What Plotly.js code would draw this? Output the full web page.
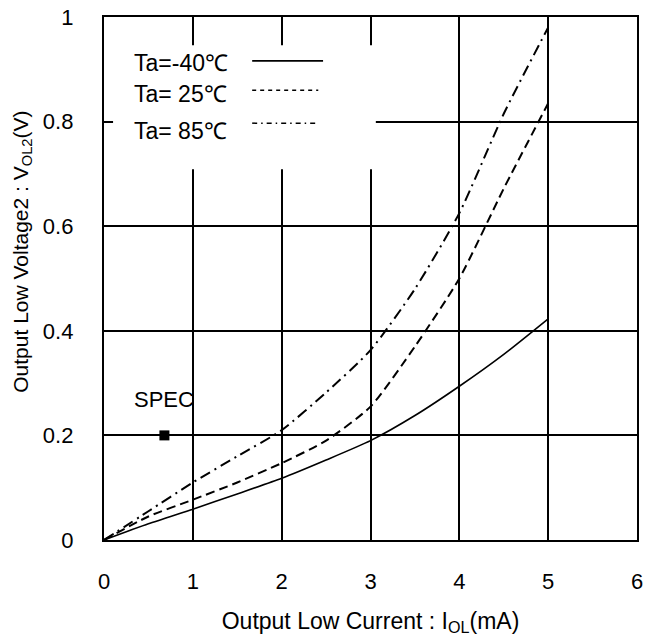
<!DOCTYPE html>
<html>
<head>
<meta charset="utf-8">
<script src="https://cdn.plot.ly/plotly-3.0.1.min.js"></script>
<style>body{margin:0;background:#fff}#chart{width:656px;height:639px}</style>
</head>
<body>
<div id="chart"></div>
<script>
// Output low current (mA)
var currentMA = [0, 0.5, 1, 1.5, 2, 2.5, 3, 3.5, 4, 4.5, 5];
// Output low voltage (V) per ambient temperature
var vol_m40 = [0, 0.031, 0.059, 0.088, 0.118, 0.153, 0.19, 0.238, 0.294, 0.355, 0.423];
var vol_25  = [0, 0.045, 0.077, 0.11, 0.147, 0.19, 0.255, 0.37, 0.5, 0.672, 0.835];
var vol_85  = [0, 0.055, 0.11, 0.16, 0.21, 0.282, 0.363, 0.48, 0.625, 0.815, 0.98];
var seriesNames = ["Ta=-40℃", "Ta= 25℃", "Ta= 85℃"];
var specX = [0.68];
var specY = [0.2];
var xTicks = [0, 1, 2, 3, 4, 5, 6];
var yTicks = [0, 0.2, 0.4, 0.6, 0.8, 1];
var yTickText = ["0", "0.2", "0.4", "0.6", "0.8", "1"];
var xTitle = "Output Low Current : I<sub>OL</sub>(mA)";
var yTitle = "Output Low Voltage2 : V<sub>OL2</sub>(V)";

var FONT = "Liberation Sans, Arial, sans-serif";
var dashes = ["solid", "9px,5px", "11px,5px,2px,5px"];
var widths = [1.6, 2, 2];
var series = [vol_m40, vol_25, vol_85];

var traces = series.map(function (ys, i) {
  return {
    x: currentMA, y: ys, name: seriesNames[i], type: "scatter", mode: "lines",
    line: {color: "#000", width: widths[i], dash: dashes[i], shape: "spline", smoothing: 0.6},
    hoverinfo: "skip"
  };
});
traces.push({
  x: specX, y: specY, type: "scatter", mode: "markers", name: "SPEC",
  marker: {symbol: "square", size: 10, color: "#000"}
});

var legendY = [0.916, 0.860, 0.797];
var legendTextY = [0.912, 0.852, 0.782];
var legendDash = ["solid", "4px,4px", "5px,4px,1.5px,4px"];
var shapes = [{
  type: "rect", xref: "paper", yref: "paper", x0: 0.017, x1: 0.51, y0: 0.709, y1: 0.946,
  fillcolor: "#fff", line: {width: 0}, layer: "above"
}];
var annotations = [];
for (var i = 0; i < 3; i++) {
  shapes.push({
    type: "line", xref: "paper", yref: "paper", x0: 0.278, x1: i === 0 ? 0.411 : 0.402,
    y0: legendY[i], y1: legendY[i], line: {color: "#000", width: i === 0 ? 1.8 : 1.5, dash: legendDash[i]},
    layer: "above"
  });
  annotations.push({
    xref: "paper", yref: "paper", x: 0.0525, y: legendTextY[i], xanchor: "left", yanchor: "middle",
    text: seriesNames[i], showarrow: false, font: {family: FONT, size: 23, color: "#000"}
  });
}
annotations.push({
  xref: "x", yref: "y", x: specX[0], y: specY[0], xanchor: "center", yanchor: "bottom", yshift: 21,
  text: "SPEC", showarrow: false, font: {family: FONT, size: 22, color: "#000"}
});
annotations.push({
  xref: "paper", yref: "paper", x: -0.154, y: 0.551, xanchor: "center", yanchor: "middle",
  textangle: -90, text: yTitle, showarrow: false, font: {family: FONT, size: 21, color: "#000"}
});

var layout = {
  width: 656, height: 639,
  margin: {l: 104, r: 19, t: 17, b: 99},
  paper_bgcolor: "#fff", plot_bgcolor: "#fff",
  showlegend: false,
  font: {family: FONT, size: 22, color: "#000"},
  xaxis: {
    range: [0, 6], tickvals: xTicks, ticks: "", showgrid: true, gridcolor: "#000", gridwidth: 2,
    zeroline: false, showline: true, linecolor: "#000", linewidth: 2.2, mirror: true,
    ticklabelstandoff: 20, tickfont: {family: FONT, size: 22},
    title: {text: xTitle, font: {family: FONT, size: 23}, standoff: 20}
  },
  yaxis: {
    range: [0, 1], tickvals: yTicks, ticktext: yTickText, ticks: "", showgrid: true, gridcolor: "#000", gridwidth: 2,
    zeroline: false, showline: true, linecolor: "#000", linewidth: 2.2, mirror: true,
    ticklabelstandoff: 24, tickfont: {family: FONT, size: 22}
  },
  shapes: shapes,
  annotations: annotations
};

Plotly.newPlot("chart", traces, layout, {displayModeBar: false, staticPlot: true});
</script>
</body>
</html>
